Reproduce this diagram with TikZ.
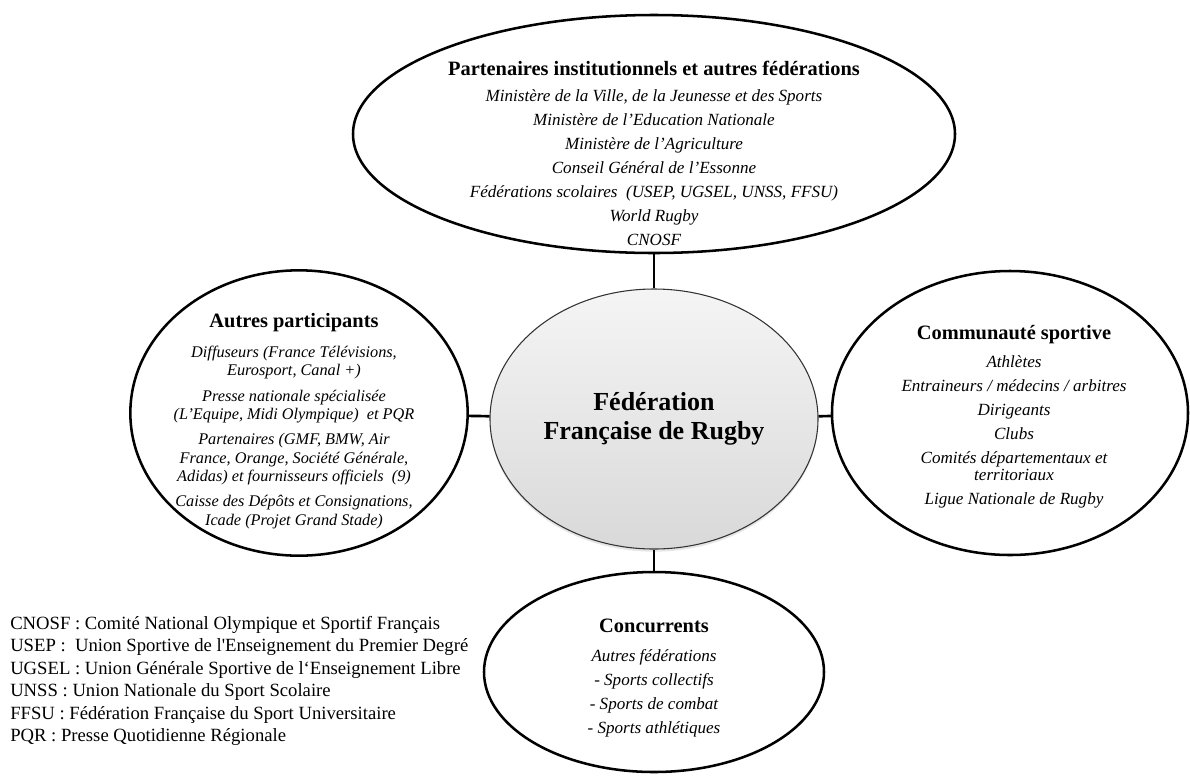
\documentclass[tikz,border=0pt]{standalone}
\usepackage{fontspec}
\setmainfont{Liberation Serif}
\usetikzlibrary{shapes.geometric,shadows}
\tikzset{
  bubble/.style={ellipse,draw=black,line width=1.9pt,fill=white,inner sep=0pt},
  hub/.style={ellipse,draw=black!80,line width=0.8pt,top color=gray!8,bottom color=gray!30,
    inner sep=0pt,align=center,font=\fontsize{19.5}{21.75}\selectfont\bfseries,
    drop shadow={opacity=0.2,shadow xshift=0pt,shadow yshift=-2pt}},
  txt/.style={align=center,font=\fontsize{12.8}{#1}\selectfont\itshape},
  txt/.default=18pt,
  link/.style={draw=black,line width=2pt},
}
\newcommand{\ttl}[1]{{\fontsize{15.3}{17}\selectfont\bfseries\upshape #1}}

\begin{document}
\begin{tikzpicture}[x=0.75pt,y=-0.75pt]
  \useasboundingbox (0,0) rectangle (1190,776);
  % ellipses
  \node[bubble,minimum width=451.5pt,minimum height=178.5pt] (partners) at (654,134) {};
  \node[bubble,minimum width=253pt,minimum height=214pt] (others) at (299,413) {};
  \node[bubble,minimum width=267pt,minimum height=213pt] (community) at (1010,413) {};
  \node[bubble,minimum width=255pt,minimum height=150pt] (rivals) at (654,672) {};
  \node[hub,minimum width=246pt,minimum height=195pt] (ffr) at (654,419) {Fédération\\Française de Rugby};
  % connectors
  \draw[link] (partners) -- (ffr);
  \draw[link] (others) -- (ffr);
  \draw[link] (ffr) -- (community);
  \draw[link] (ffr) -- (rivals);
  % texts
  \node[txt] (partners-txt) at (654,153) {\ttl{Partenaires institutionnels et autres fédérations}\\[1.5pt]
    Ministère de la Ville, de la Jeunesse et des Sports\\
    Ministère de l’Education Nationale\\
    Ministère de l’Agriculture\\
    Conseil Général de l’Essonne\\
    Fédérations scolaires\ \ (USEP, UGSEL, UNSS, FFSU)\\
    World Rugby\\
    CNOSF};
  \node[txt=13.9pt,font=\fontsize{12.2}{13.9}\selectfont\itshape] (others-txt) at (294,421) {\ttl{Autres participants}\\[8.6pt]
    Diffuseurs (France Télévisions,\\ Eurosport, Canal +)\\[4.9pt]
    Presse nationale spécialisée\\ (L’Equipe, Midi Olympique)\ \ et PQR\\[4.9pt]
    Partenaires (GMF, BMW, Air\\ France, Orange, Société Générale,\\ Adidas) et fournisseurs officiels\ \ (9)\\[4.9pt]
    Caisse des Dépôts et Consignations,\\ Icade (Projet Grand Stade)};
  \node[txt=12.5pt] (community-txt) at (1014,417) {\ttl{Communauté sportive}\\[8.5pt]
    Athlètes\\[5.5pt]
    Entraineurs / médecins / arbitres\\[5.5pt]
    Dirigeants\\[5.5pt]
    Clubs\\[5.5pt]
    Comités départementaux et\\ territoriaux\\[5.5pt]
    Ligue Nationale de Rugby};
  \node[txt=17.8pt] (rivals-txt) at (654,678) {\ttl{Concurrents}\\[4pt]
    Autres fédérations\\
    - Sports collectifs\\
    - Sports de combat\\
    - Sports athlétiques};
  % legend
  \node[anchor=west,align=left,inner sep=0pt,font=\fontsize{14}{16.8}\selectfont] (legend) at (10,681) {CNOSF : Comité National Olympique et Sportif Français\\
    USEP :\ \ Union Sportive de l\textquotesingle Enseignement du Premier Degré\\
    UGSEL : Union Générale Sportive de l‘Enseignement Libre\\
    UNSS : Union Nationale du Sport Scolaire\\
    FFSU : Fédération Française du Sport Universitaire\\
    PQR : Presse Quotidienne Régionale};
\end{tikzpicture}
\end{document}
